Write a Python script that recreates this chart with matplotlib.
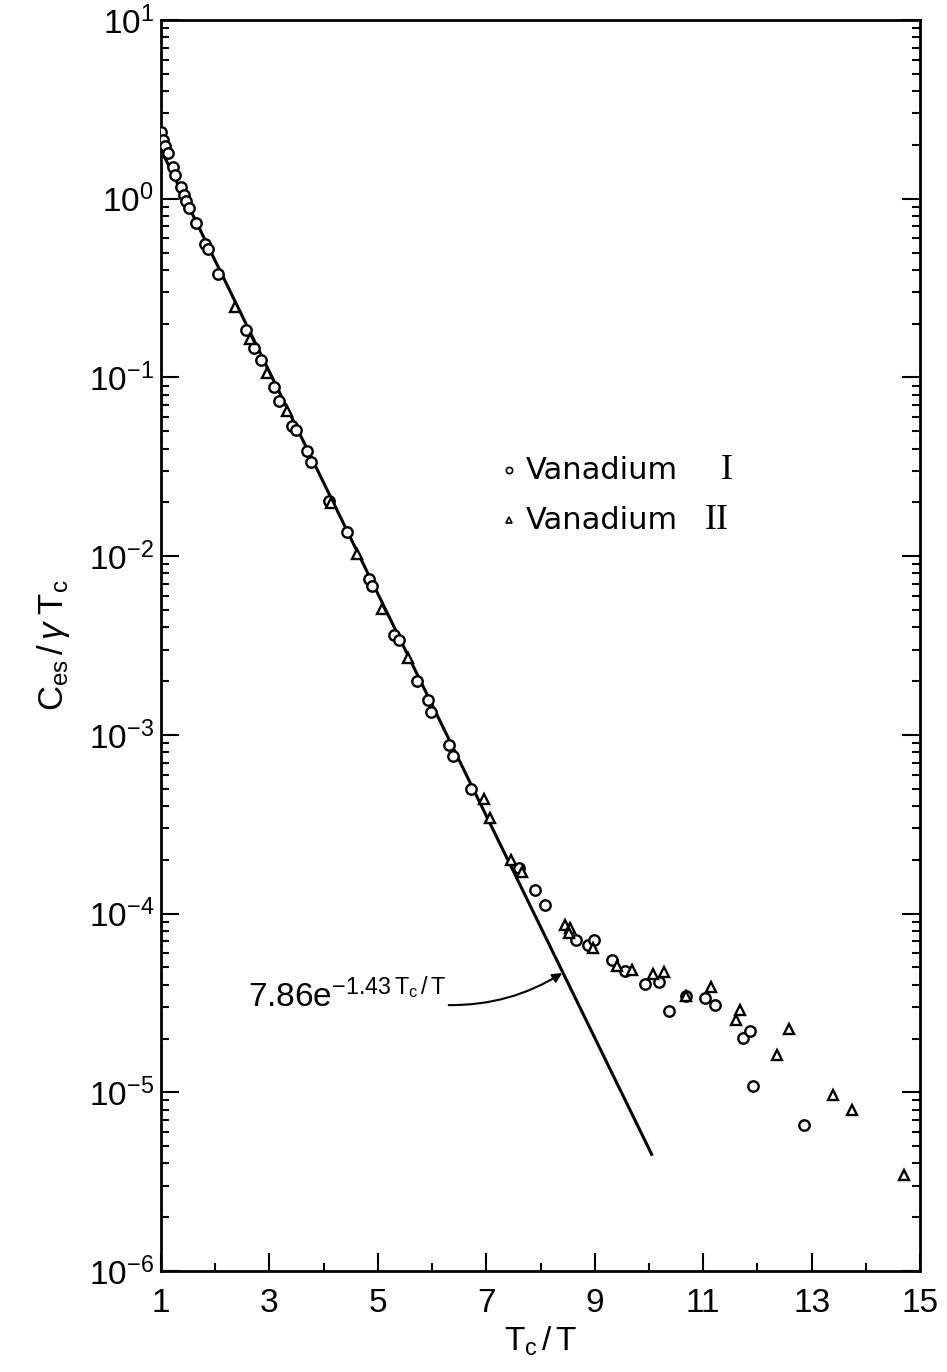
import matplotlib
matplotlib.use("Agg")
import matplotlib.pyplot as plt
from matplotlib.ticker import LogLocator, FixedLocator, NullFormatter

plt.rcParams['font.family'] = ['Liberation Sans', 'DejaVu Sans']
plt.rcParams['mathtext.fontset'] = 'custom'
plt.rcParams['mathtext.rm'] = 'Liberation Sans'
plt.rcParams['mathtext.it'] = 'Liberation Sans:italic'
plt.rcParams['mathtext.bf'] = 'Liberation Sans:bold'

# ---- data ----
v1_x = [1.00, 1.03, 1.07, 1.13, 1.22, 1.26, 1.37, 1.42, 1.47, 1.52, 1.65, 1.81, 1.86, 2.05,
        2.56, 2.72, 2.85, 3.09, 3.18, 3.42, 3.49, 3.70, 3.76, 4.10, 4.43, 4.83, 4.89, 5.30,
        5.39, 5.72, 5.92, 5.98, 6.32, 6.39, 6.72, 7.60, 7.90, 8.08, 8.65, 8.87, 8.99, 9.32,
        9.55, 9.92, 10.19, 10.37, 10.68, 11.04, 11.21, 11.73, 11.87, 11.92, 12.86]
v1_y = [2.36, 2.14, 1.98, 1.80, 1.50, 1.35, 1.16, 1.05, 0.97, 0.89, 0.73, 0.56, 0.525, 0.38,
        0.184, 0.147, 0.126, 0.0883, 0.0735, 0.0532, 0.0506, 0.0389, 0.0335, 0.0203, 0.0136,
        0.00745, 0.00678, 0.0036, 0.0034, 0.00201, 0.00157, 0.00135, 8.81e-4, 7.64e-4, 4.99e-4,
        1.80e-4, 1.35e-4, 1.11e-4, 7.08e-5, 6.68e-5, 7.08e-5, 5.47e-5,
        4.79e-5, 4.04e-5, 4.14e-5, 2.84e-5, 3.47e-5, 3.37e-5, 3.09e-5, 2.01e-5, 2.21e-5,
        1.08e-5, 6.58e-6]

v2_x = [2.37, 2.64, 2.95, 3.32, 4.14, 4.61, 5.07, 5.55, 6.96, 7.07, 7.46, 7.65, 8.45, 8.55,
        8.52, 8.96, 9.42, 9.68, 10.07, 10.28, 10.68, 11.15, 11.60, 11.68, 12.37, 12.59, 13.39,
        13.74, 14.71]
v2_y = [0.247, 0.165, 0.106, 0.0646, 0.0198, 0.0103, 0.00508, 0.00269, 4.37e-4, 3.42e-4,
        1.99e-4, 1.72e-4, 8.65e-5, 8.30e-5, 7.78e-5, 6.41e-5, 5.07e-5, 4.85e-5, 4.60e-5,
        4.71e-5, 3.47e-5, 3.88e-5, 2.55e-5, 2.90e-5, 1.62e-5, 2.26e-5, 9.68e-6, 7.98e-6, 3.45e-6]

# fitted line end points (straight on semi-log axes)
fit_x = [1.0, 10.05]
fit_y = [1.88, 4.5e-6]

x_major = [1, 3, 5, 7, 9, 11, 13, 15]
x_minor = [2, 4, 6, 8, 10, 12, 14]

legend_names = ['Vanadium', 'Vanadium']
legend_numerals = ['I', 'II']

fig = plt.figure(figsize=(9.47, 13.72), dpi=100)
ax = fig.add_axes([0.170, 0.0736, 0.8015, 0.9118])

ax.set_yscale('log')
ax.set_xlim(1, 15)
ax.set_ylim(1e-6, 1e1)

ax.plot(fit_x, fit_y, color='black', lw=2.2, zorder=2)
ax.plot(v1_x, v1_y, linestyle='none', marker='o', ms=7.5, mfc='white', mec='black', mew=1.7, zorder=3)
ax.plot(v2_x, v2_y, linestyle='none', marker='^', ms=7.5, mfc='white', mec='black', mew=1.7, zorder=3)

ax.xaxis.set_major_locator(FixedLocator(x_major))
ax.xaxis.set_minor_locator(FixedLocator(x_minor))
ax.set_xticklabels([str(v) for v in x_major])
ax.yaxis.set_major_locator(LogLocator(base=10, numticks=20))
ax.yaxis.set_minor_locator(LogLocator(base=10, subs=range(2, 10), numticks=100))
ax.yaxis.set_minor_formatter(NullFormatter())

ax.tick_params(axis='both', which='both', direction='in', right=True, top=False, width=1.5)
ax.tick_params(axis='both', which='major', length=13, labelsize=24)
ax.tick_params(axis='both', which='minor', length=6)
ax.tick_params(axis='x', which='major', pad=12)
ax.tick_params(axis='y', which='major', pad=5)
for s in ax.spines.values():
    s.set_linewidth(2)

ax.set_xlabel(r'$\mathrm{T_c}\,/\,\mathrm{T}$', fontsize=24, labelpad=4)
ax.set_ylabel(r'$\mathrm{C_{es}}\,/\,\gamma\;\mathrm{T_c}$', fontsize=25, labelpad=12)

# legend drawn by hand (serif roman numerals as in the original)
leg_mx = 0.458
leg_rows = [0.640, 0.600]
num_x = [0.737, 0.717]
for (row_y, mk, name, num, nx) in zip(leg_rows, ['o', '^'], legend_names, legend_numerals, num_x):
    ax.plot([leg_mx], [row_y], transform=ax.transAxes, linestyle='none', marker=mk, ms=4.5,
            mfc='white', mec='black', mew=1.2, clip_on=False)
    ax.text(leg_mx + 0.022, row_y, name, transform=ax.transAxes, fontsize=22,
            family='DejaVu Sans', ha='left', va='center')
    ax.text(nx, row_y, num, transform=ax.transAxes, fontsize=26,
            family='Liberation Serif', ha='left', va='center')

ax.annotate(r'$7.86\mathrm{e}^{-1.43\,\mathrm{T_c}\,/\,\mathrm{T}}$', xy=(8.40, 4.65e-5),
            xytext=(2.60, 3.0e-5), fontsize=24, ha='left', va='baseline',
            arrowprops=dict(arrowstyle='-|>', color='black', lw=1.5, mutation_scale=14,
                            relpos=(1.0, 0.25), shrinkA=0, shrinkB=0,
                            connectionstyle='arc3,rad=0.15'))

fig.savefig('out.png', dpi=100)
